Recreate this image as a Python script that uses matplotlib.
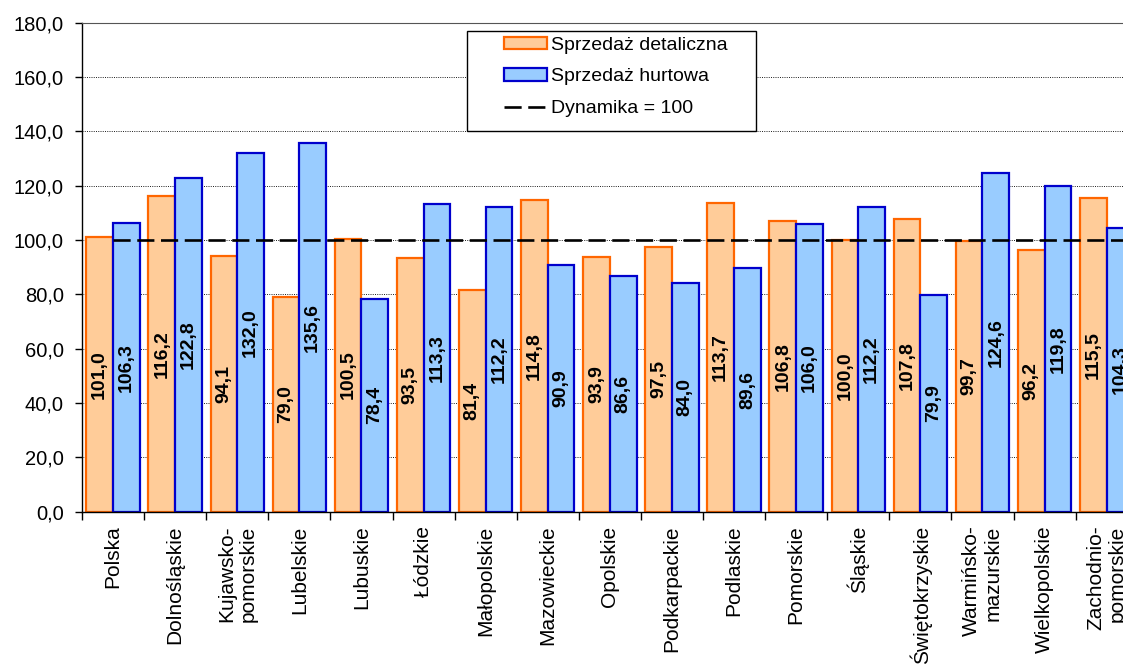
import matplotlib
matplotlib.use('Agg')
import matplotlib.pyplot as plt
from matplotlib.patches import Rectangle
from matplotlib.lines import Line2D
from matplotlib.ticker import FuncFormatter, FixedLocator
import numpy as np

plt.rcParams['font.family'] = ['Liberation Sans', 'DejaVu Sans']

regions = ['Polska', 'Dolnośląskie', 'Kujawsko-\npomorskie', 'Lubelskie', 'Lubuskie',
           'Łódzkie', 'Małopolskie', 'Mazowieckie', 'Opolskie', 'Podkarpackie',
           'Podlaskie', 'Pomorskie', 'Śląskie', 'Świętokrzyskie',
           'Warmińsko-\nmazurskie', 'Wielkopolskie', 'Zachodnio-\npomorskie']
retail = [101.0, 116.2, 94.1, 79.0, 100.5, 93.5, 81.4, 114.8, 93.9, 97.5,
          113.7, 106.8, 100.0, 107.8, 99.7, 96.2, 115.5]
wholesale = [106.3, 122.8, 132.0, 135.6, 78.4, 113.3, 112.2, 90.9, 86.6, 84.0,
             89.6, 106.0, 112.2, 79.9, 124.6, 119.8, 104.3]
baseline = 100
labels = ['Sprzedaż detaliczna', 'Sprzedaż hurtowa', 'Dynamika = 100']

ORANGE_FILL, ORANGE_EDGE = '#FFCC99', '#FF6600'
BLUE_FILL, BLUE_EDGE = '#99CCFF', '#0000CC'

W, H = 1123, 664
fig = plt.figure(figsize=(W / 100, H / 100), dpi=100)
# plot area runs past the right edge of the picture, as in the source
ax = fig.add_axes([82 / W, 1 - 511.5 / H, 17 * 62.1 / W, 488.8 / H])

x = np.arange(len(regions))
w = 0.43
b1 = ax.bar(x - w / 2, retail, w, color=ORANGE_FILL, edgecolor=ORANGE_EDGE, linewidth=1.6, zorder=2)
b2 = ax.bar(x + w / 2, wholesale, w, color=BLUE_FILL, edgecolor=BLUE_EDGE, linewidth=1.6, zorder=2)

ax.plot([x[0], len(regions) - 0.5], [baseline, baseline], color='black', linewidth=1.9,
        dashes=(6.5, 2.5), zorder=3)

for bars, vals in ((b1, retail), (b2, wholesale)):
    for bar, v in zip(bars, vals):
        ax.text(bar.get_x() + bar.get_width() / 2, v / 2, f'{v:.1f}'.replace('.', ','),
                rotation=90, ha='center', va='center', fontsize=14,
                fontweight='bold', color='black', zorder=4)

ax.set_xlim(-0.5, len(regions) - 0.5)
ax.set_ylim(0, 180)
ax.set_yticks(np.arange(0, 181, 20))
ax.yaxis.set_major_formatter(FuncFormatter(lambda v, p: f'{v:.1f}'.replace('.', ',')))
ax.tick_params(axis='y', direction='out', length=5, width=1, labelsize=14.5, pad=8)
ax.grid(axis='y', color='black', linestyle=(0, (1.2, 1.5)), linewidth=0.6, zorder=1)

ax.set_xticks(x)
ax.set_xticklabels(regions, rotation=90, fontsize=15, va='top', ha='center',
                   multialignment='right')
ax.tick_params(axis='x', which='major', length=0, pad=10)
ax.xaxis.set_minor_locator(FixedLocator(np.arange(-0.5, len(regions), 1)))
ax.tick_params(axis='x', which='minor', direction='out', length=6, width=1)

for s in ('left', 'bottom'):
    ax.spines[s].set_color('black')
    ax.spines[s].set_linewidth(1)
ax.spines['top'].set_color('#555555')
ax.spines['top'].set_linewidth(0.8)
ax.spines['right'].set_visible(False)
ax.set_axisbelow(True)

# legend box
box = Rectangle((467 / W, 1 - 131 / H), 289 / W, 100 / H, transform=fig.transFigure,
                facecolor='white', edgecolor='black', linewidth=1, zorder=4)
fig.patches.append(box)
handles = [b1, b2, Line2D([0], [0], color='black', linewidth=1.9, dashes=(6.5, 2.5))]
fig.legend(handles, labels, loc='upper left', bbox_to_anchor=(498 / W, 1 - 31 / H),
           frameon=False, fontsize=14, handlelength=2.2, handleheight=0.6,
           handletextpad=0.25, labelspacing=0.75, borderpad=0.3, borderaxespad=0)

fig.savefig('out.png', dpi=100)
